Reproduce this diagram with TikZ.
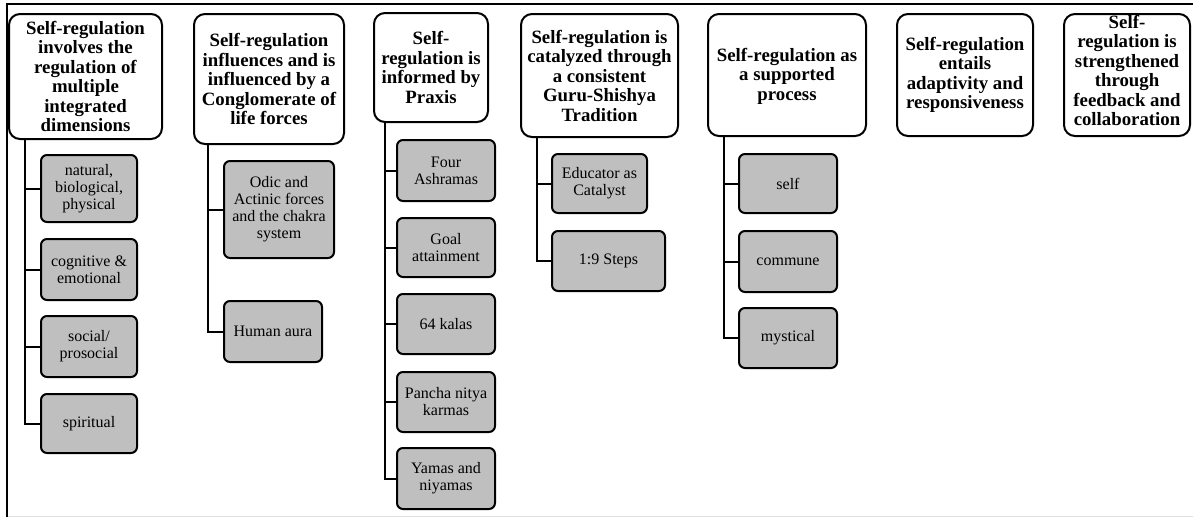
\documentclass[tikz,border=0pt]{standalone}
\usepackage{fontspec}
\setmainfont{Liberation Serif}
\newcommand{\liftup}[2]{\raisebox{#1}[\height][\depth]{#2}}
\begin{document}
\begin{tikzpicture}[x=1pt,y=-1pt,
  hdr/.style={draw, line width=2pt, rounded corners=11pt, fill=white,
    align=center, inner sep=1pt, font=\bfseries\fontsize{18.8}{19.5}\selectfont},
  item/.style={draw, line width=2pt, rounded corners=6pt, fill=black!25,
    align=center, inner sep=1pt, font=\fontsize{16}{17}\selectfont},
  conn/.style={line width=2pt}]
\useasboundingbox (0,0) rectangle (1193,517);

% outer frame
\draw[line width=1.5pt] (7,517) -- (7,4) -- (1193,4);
\draw[black!12, line width=1pt] (8,516) -- (1193,516);

% category headers
\node[hdr, minimum width=153pt, minimum height=125pt] (h1) at (85.5,76.5)
  {Self-regulation\\involves the\\regulation of\\multiple\\integrated\\dimensions};
\node[hdr, minimum width=150pt, minimum height=130pt] (h2) at (269,79)
  {Self-regulation\\influences and is\\influenced by a\\Conglomerate of\\life forces};
\node[hdr, minimum width=114pt, minimum height=109pt] (h3) at (431,67.5)
  {Self-\\regulation is\\informed by\\Praxis};
\node[hdr, minimum width=157pt, minimum height=123pt] (h4) at (599.5,75.5)
  {Self-regulation is\\catalyzed through\\a consistent\\Guru-Shishya\\Tradition};
\node[hdr, minimum width=158pt, minimum height=122pt] (h5) at (787,75)
  {\liftup{-2pt}{\begin{tabular}{@{}c@{}}Self-regulation as\\a supported\\process\end{tabular}}};
\node[hdr, minimum width=136pt, minimum height=122pt] (h6) at (965,75)
  {Self-regulation\\entails\\adaptivity and\\responsiveness};
\node[hdr, minimum width=126pt, minimum height=122pt] (h7) at (1127,75)
  {\liftup{2pt}{\begin{tabular}{@{}c@{}}Self-\\regulation is\\strengthened\\through\\feedback and\\collaboration\end{tabular}}};

% items, column 1
\node[item, minimum width=96pt, minimum height=67pt] (c11) at (89,188.5) {natural,\\biological,\\physical};
\node[item, minimum width=96pt, minimum height=61pt] (c12) at (89,269.5) {cognitive \&\\emotional};
\node[item, minimum width=96pt, minimum height=61pt] (c13) at (89,346.5) {social/\\prosocial};
\node[item, minimum width=96pt, minimum height=59pt] (c14) at (89,423.5) {spiritual};

% items, column 2
\node[item, minimum width=110pt, minimum height=97pt] (c21) at (279,209.5) {Odic and\\Actinic forces\\and the chakra\\system};
\node[item, minimum width=98pt, minimum height=61pt] (c22) at (273,331.5) {Human aura};

% items, column 3
\node[item, minimum width=98pt, minimum height=61pt] (c31) at (446,170.5) {Four\\Ashramas};
\node[item, minimum width=98pt, minimum height=59pt] (c32) at (446,247.5) {Goal\\attainment};
\node[item, minimum width=98pt, minimum height=60pt] (c33) at (446,324) {64 kalas};
\node[item, minimum width=98pt, minimum height=60pt] (c34) at (446,402) {Pancha nitya\\karmas};
\node[item, minimum width=98pt, minimum height=61pt] (c35) at (446,478.5) {Yamas and\\niyamas};

% items, column 4
\node[item, minimum width=95pt, minimum height=59pt] (c41) at (599.5,183.5) {Educator as\\Catalyst};
\node[item, minimum width=113pt, minimum height=60pt] (c42) at (608.5,261) {1:9 Steps};

% items, column 5
\node[item, minimum width=98pt, minimum height=59pt] (c51) at (788,183.5) {self};
\node[item, minimum width=98pt, minimum height=61pt] (c52) at (788,261.5) {commune};
\node[item, minimum width=98pt, minimum height=60pt] (c53) at (788,338) {mystical};

% connectors
\foreach \c in {c11,c12,c13,c14}
  \draw[conn] ([xshift=17pt]h1.south west) |- (\c.west);
\foreach \c in {c21,c22}
  \draw[conn] ([xshift=15pt]h2.south west) |- (\c.west);
\foreach \c in {c31,c32,c33,c34,c35}
  \draw[conn] ([xshift=12pt]h3.south west) |- (\c.west);
\foreach \c in {c41,c42}
  \draw[conn] ([xshift=17pt]h4.south west) |- (\c.west);
\foreach \c in {c51,c52,c53}
  \draw[conn] ([xshift=17pt]h5.south west) |- (\c.west);
\end{tikzpicture}
\end{document}
